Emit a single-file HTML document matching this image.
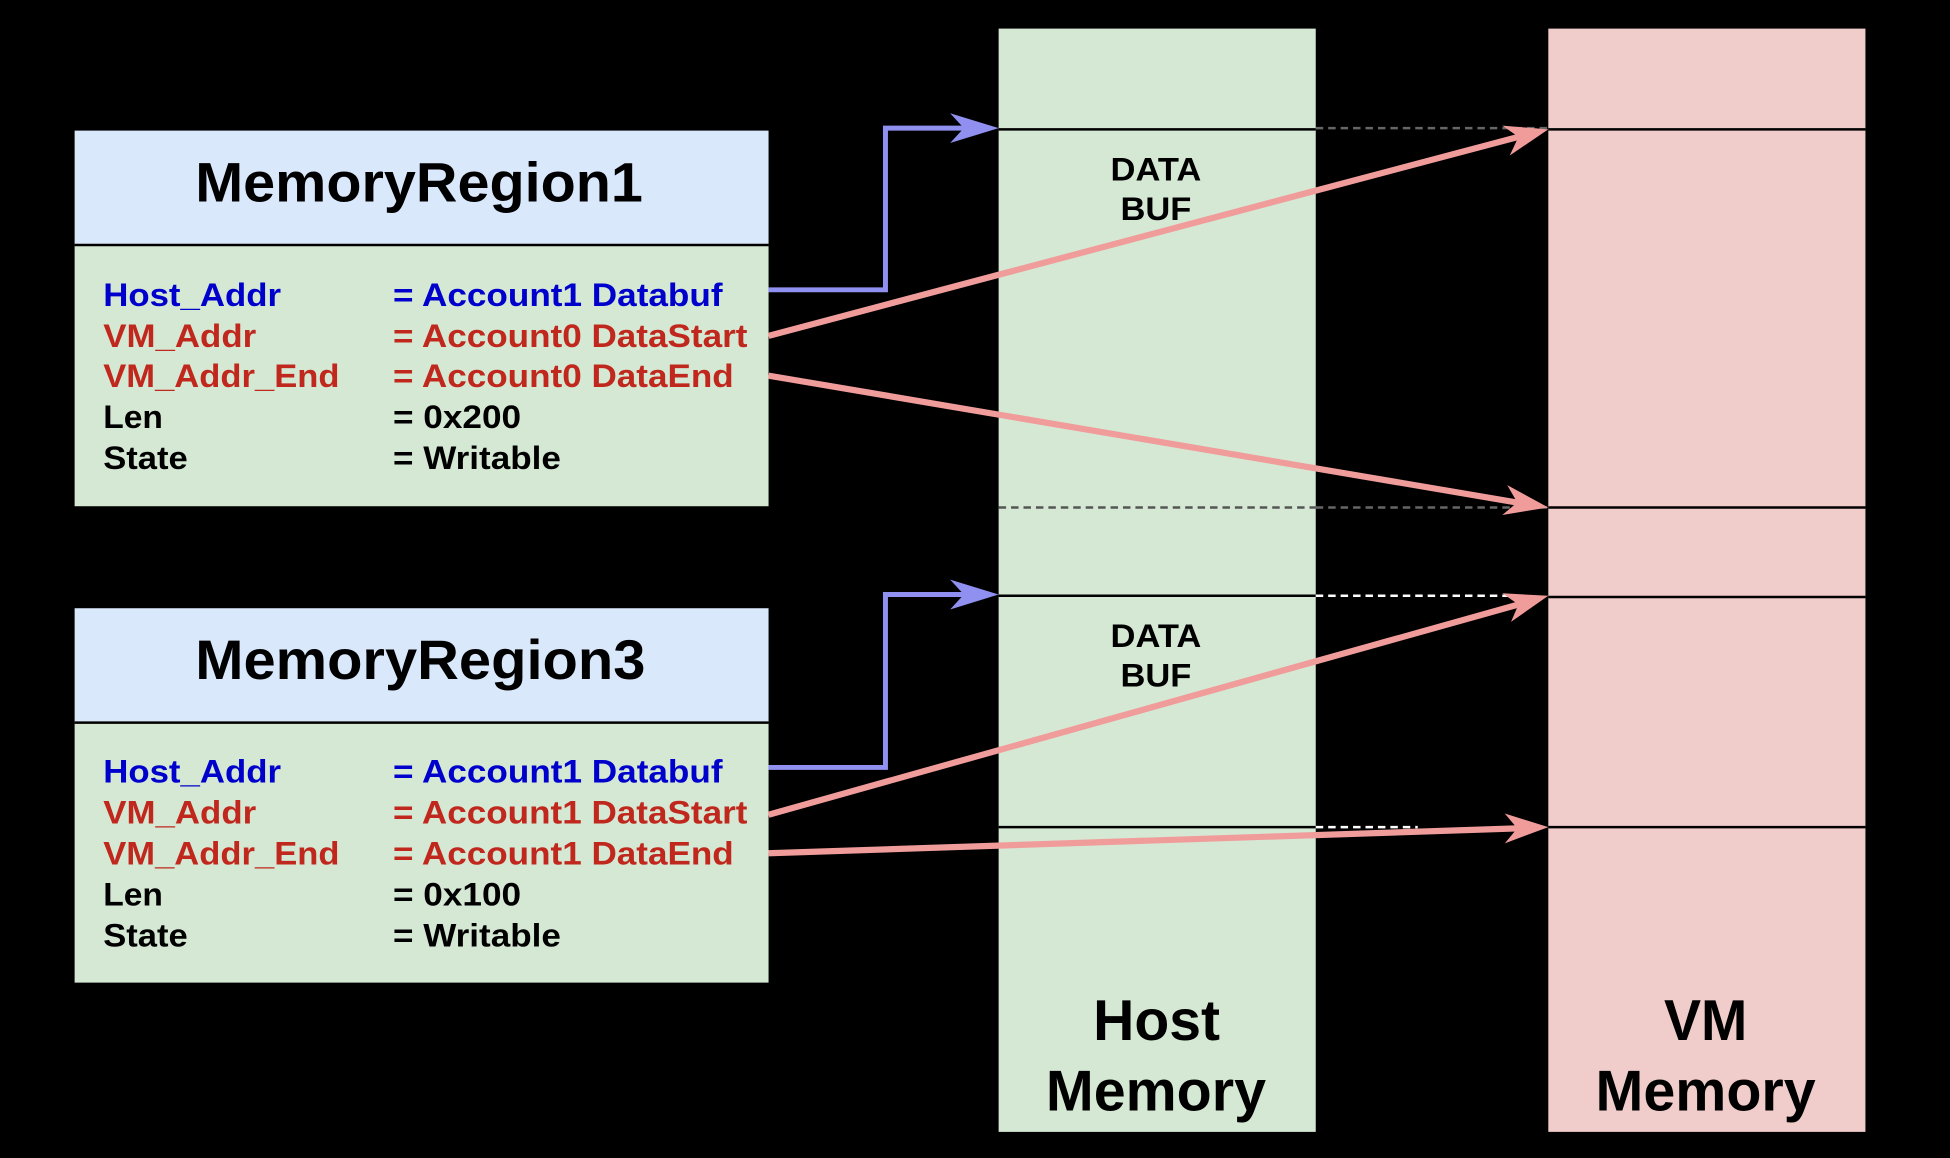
<!DOCTYPE html>
<html><head><style>html,body{margin:0;padding:0;background:#000;}svg{display:block}</style></head>
<body>
<svg width="1950" height="1158" viewBox="0 0 1568 931" preserveAspectRatio="none" xmlns="http://www.w3.org/2000/svg" font-family="Liberation Sans, sans-serif" font-weight="bold">
<rect width="1568" height="931" fill="#000"/>
<rect x="803" y="23" width="255" height="887" fill="#d5e8d4"/>
<rect x="1245" y="23" width="255" height="887" fill="#f0cccb"/>
<g stroke="#000" stroke-width="2">
<line x1="803" y1="104" x2="1058" y2="104"/>
<line x1="803" y1="479" x2="1058" y2="479"/>
<line x1="803" y1="665" x2="1058" y2="665"/>
<line x1="1245" y1="104" x2="1500" y2="104"/>
<line x1="1245" y1="408" x2="1500" y2="408"/>
<line x1="1245" y1="480" x2="1500" y2="480"/>
<line x1="1245" y1="665" x2="1500" y2="665"/>
</g>
<line x1="803" y1="408" x2="1058" y2="408" stroke="#555" stroke-width="2" stroke-dasharray="6,4"/>
<line x1="1058" y1="103" x2="1245" y2="103" stroke="#666" stroke-width="2" stroke-dasharray="6,4"/>
<line x1="1058" y1="408" x2="1245" y2="408" stroke="#666" stroke-width="2" stroke-dasharray="6,4"/>
<line x1="1058" y1="479" x2="1215" y2="479" stroke="#fff" stroke-width="2" stroke-dasharray="6,4"/>
<line x1="1058" y1="665" x2="1140" y2="665" stroke="#fff" stroke-width="2" stroke-dasharray="6,4"/>
<g font-size="26" text-anchor="start" lengthAdjust="spacingAndGlyphs">
<text x="893" y="145" textLength="73" lengthAdjust="spacingAndGlyphs">DATA</text>
<text x="901" y="177" textLength="57" lengthAdjust="spacingAndGlyphs">BUF</text>
<text x="893" y="520" textLength="73" lengthAdjust="spacingAndGlyphs">DATA</text>
<text x="901" y="552" textLength="57" lengthAdjust="spacingAndGlyphs">BUF</text>
</g>
<g font-size="46">
<text x="879" y="836" textLength="102" lengthAdjust="spacingAndGlyphs">Host</text>
<text x="841" y="893" textLength="177" lengthAdjust="spacingAndGlyphs">Memory</text>
<text x="1338" y="836" textLength="67" lengthAdjust="spacingAndGlyphs">VM</text>
<text x="1283" y="893" textLength="177" lengthAdjust="spacingAndGlyphs">Memory</text>
</g>
<!-- MR1 -->
<rect x="60" y="105" width="558" height="92" fill="#dae8fc"/>
<rect x="60" y="197" width="558" height="210" fill="#d5e8d4"/>
<line x1="60" y1="197" x2="618" y2="197" stroke="#000" stroke-width="2"/>
<text x="157" y="162" font-size="45" textLength="360" lengthAdjust="spacingAndGlyphs">MemoryRegion1</text>
<g font-size="26">
<text x="83" y="246" fill="#0000cc" textLength="143" lengthAdjust="spacingAndGlyphs">Host_Addr</text><text x="316" y="246" fill="#0000cc" textLength="265" lengthAdjust="spacingAndGlyphs">= Account1 Databuf</text>
<text x="83" y="279" fill="#c0281e" textLength="123" lengthAdjust="spacingAndGlyphs">VM_Addr</text><text x="316" y="279" fill="#c0281e" textLength="285" lengthAdjust="spacingAndGlyphs">= Account0 DataStart</text>
<text x="83" y="311" fill="#c0281e" textLength="190" lengthAdjust="spacingAndGlyphs">VM_Addr_End</text><text x="316" y="311" fill="#c0281e" textLength="274" lengthAdjust="spacingAndGlyphs">= Account0 DataEnd</text>
<text x="83" y="344" textLength="48" lengthAdjust="spacingAndGlyphs">Len</text><text x="316" y="344" textLength="103" lengthAdjust="spacingAndGlyphs">= 0x200</text>
<text x="83" y="377" textLength="68" lengthAdjust="spacingAndGlyphs">State</text><text x="316" y="377" textLength="135" lengthAdjust="spacingAndGlyphs">= Writable</text>
</g>
<!-- MR3 -->
<rect x="60" y="489" width="558" height="92" fill="#dae8fc"/>
<rect x="60" y="581" width="558" height="209" fill="#d5e8d4"/>
<line x1="60" y1="581" x2="618" y2="581" stroke="#000" stroke-width="2"/>
<text x="157" y="546" font-size="45" textLength="362" lengthAdjust="spacingAndGlyphs">MemoryRegion3</text>
<g font-size="26">
<text x="83" y="629" fill="#0000cc" textLength="143" lengthAdjust="spacingAndGlyphs">Host_Addr</text><text x="316" y="629" fill="#0000cc" textLength="265" lengthAdjust="spacingAndGlyphs">= Account1 Databuf</text>
<text x="83" y="662" fill="#c0281e" textLength="123" lengthAdjust="spacingAndGlyphs">VM_Addr</text><text x="316" y="662" fill="#c0281e" textLength="285" lengthAdjust="spacingAndGlyphs">= Account1 DataStart</text>
<text x="83" y="695" fill="#c0281e" textLength="190" lengthAdjust="spacingAndGlyphs">VM_Addr_End</text><text x="316" y="695" fill="#c0281e" textLength="274" lengthAdjust="spacingAndGlyphs">= Account1 DataEnd</text>
<text x="83" y="728" textLength="48" lengthAdjust="spacingAndGlyphs">Len</text><text x="316" y="728" textLength="103" lengthAdjust="spacingAndGlyphs">= 0x100</text>
<text x="83" y="761" textLength="68" lengthAdjust="spacingAndGlyphs">State</text><text x="316" y="761" textLength="135" lengthAdjust="spacingAndGlyphs">= Writable</text>
</g>
<!-- blue arrows -->
<g fill="none" stroke="#9090f0" stroke-width="4">
<polyline points="618,233 712,233 712,103 780,103"/>
<polyline points="618,617 712,617 712,478 780,478"/>
</g>
<g fill="#9090f0">
<polygon points="803,103 764,91 775,103 764,115"/>
<polygon points="803,478 764,466 775,478 764,490"/>
</g>
<!-- red arrows -->
<g fill="none" stroke="#f09c9a" stroke-width="5">
<line x1="618" y1="270" x2="1221" y2="110"/>
<line x1="618" y1="302" x2="1220" y2="404"/>
<line x1="618" y1="655" x2="1221" y2="486"/>
<line x1="618" y1="686" x2="1220" y2="666"/>
</g>
<g fill="#f09c9a">
<polygon points="1245,104 1214,125 1221,110 1208,101"/>
<polygon points="1245,408 1208,414 1220,404 1212,390"/>
<polygon points="1245,479 1215,500 1221,486 1208,477"/>
<polygon points="1245,665 1210,678 1220,666 1210,654"/>
</g>
</svg>
</body></html>
